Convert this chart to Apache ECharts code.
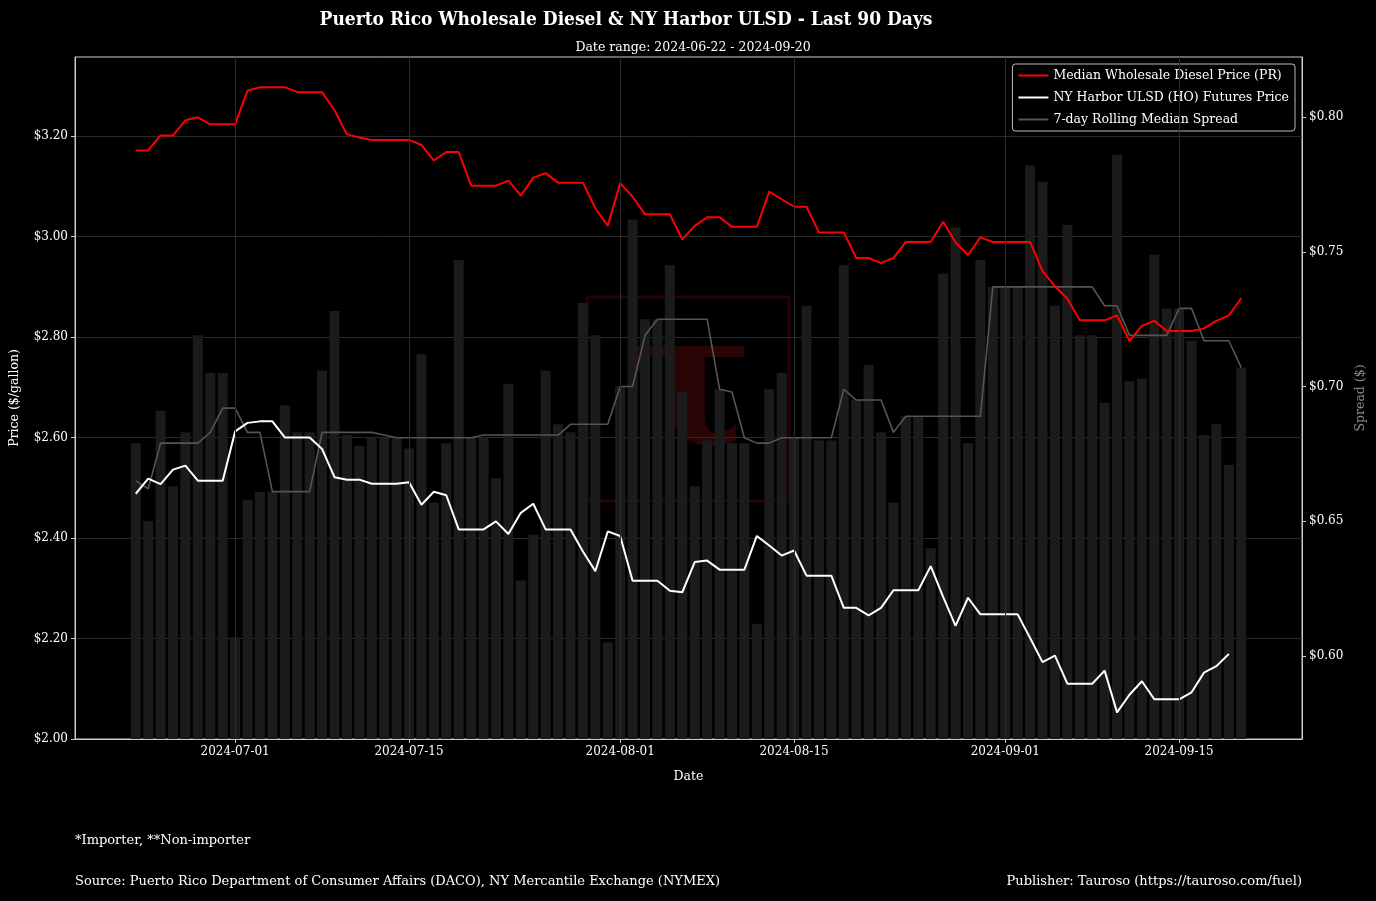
<html>
<head>
    <meta charset="UTF-8">
    <title>Puerto Rico Wholesale Diesel & NY Harbor ULSD</title>
    <style>
        html, body { margin: 0; padding: 0; background: #000; }
    </style>
    <script src="https://cdn.jsdelivr.net/npm/echarts@6/dist/echarts.min.js"></script>
</head>
<body>
<div id="main" style="width: 1376px;height:901px;"></div>
<script>
    // daily series, 2024-06-23 .. 2024-09-20
    var startDate = '2024-06-23';
    var dayCount = 90;
    var tickLabels = ['2024-07-01', '2024-07-15', '2024-08-01', '2024-08-15', '2024-09-01', '2024-09-15'];
    var priceTicks = [2.0, 2.2, 2.4, 2.6, 2.8, 3.0, 3.2];
    var spreadTicks = [0.60, 0.65, 0.70, 0.75, 0.80];

    // Median Wholesale Diesel Price (PR)
    var prPrice = [
        3.171, 3.171, 3.201, 3.201, 3.231, 3.237, 3.223, 3.223, 3.223, 3.290, 3.297, 3.297, 3.297, 3.287, 3.287,
        3.287, 3.251, 3.203, 3.197, 3.192, 3.192, 3.192, 3.192, 3.182, 3.151, 3.168, 3.168, 3.101, 3.101, 3.101, 3.111,
        3.081, 3.117, 3.126, 3.107, 3.107, 3.107, 3.056, 3.021, 3.106, 3.079, 3.044, 3.044, 3.044, 2.994, 3.021,
        3.038, 3.038, 3.019, 3.019, 3.019, 3.089, 3.074, 3.059, 3.059, 3.008, 3.008, 3.008, 2.957, 2.957, 2.947,
        2.957, 2.989, 2.989, 2.989, 3.029, 2.988, 2.963, 2.998, 2.989, 2.989, 2.989, 2.989, 2.931, 2.901, 2.876,
        2.833, 2.833, 2.833, 2.843, 2.792, 2.822, 2.832, 2.812, 2.812, 2.812, 2.817, 2.832, 2.843, 2.877
    ];
    // NY Harbor ULSD (HO) Futures Price
    var hoPrice = [
        2.488, 2.518, 2.507, 2.536, 2.544, 2.514, 2.514, 2.514, 2.612, 2.629, 2.632, 2.632, 2.600, 2.600, 2.600,
        2.577, 2.521, 2.516, 2.516, 2.508, 2.508, 2.508, 2.511, 2.466, 2.492, 2.485, 2.417, 2.417, 2.417, 2.433, 2.408,
        2.450, 2.468, 2.417, 2.417, 2.417, 2.373, 2.334, 2.413, 2.404, 2.315, 2.315, 2.315, 2.295, 2.292, 2.352,
        2.355, 2.337, 2.337, 2.337, 2.404, 2.385, 2.365, 2.375, 2.325, 2.325, 2.325, 2.261, 2.261, 2.246, 2.261,
        2.296, 2.296, 2.296, 2.344, 2.283, 2.225, 2.281, 2.248, 2.248, 2.248, 2.248, 2.201, 2.153, 2.166, 2.110,
        2.110, 2.110, 2.136, 2.053, 2.088, 2.115, 2.079, 2.079, 2.079, 2.093, 2.132, 2.145, 2.169, null
    ];
    // daily spread (bars)
    var spread = [
        0.679, 0.650, 0.691, 0.663, 0.683, 0.719, 0.705, 0.705, 0.607, 0.658, 0.661, 0.661, 0.693, 0.683, 0.683,
        0.706, 0.728, 0.682, 0.678, 0.681, 0.681, 0.681, 0.677, 0.712, 0.657, 0.679, 0.747, 0.681, 0.681, 0.666, 0.701,
        0.628, 0.645, 0.706, 0.686, 0.683, 0.731, 0.719, 0.605, 0.700, 0.762, 0.725, 0.725, 0.745, 0.698, 0.663,
        0.680, 0.699, 0.679, 0.679, 0.612, 0.699, 0.705, 0.681, 0.730, 0.680, 0.680, 0.745, 0.695, 0.708, 0.683,
        0.657, 0.689, 0.689, 0.640, 0.742, 0.759, 0.679, 0.747, 0.737, 0.737, 0.737, 0.782, 0.776, 0.730, 0.760, 0.719,
        0.719, 0.694, 0.786, 0.702, 0.703, 0.749, 0.729, 0.729, 0.717, 0.682, 0.686, 0.671, 0.707
    ];
    // 7-day rolling median spread
    var rollingSpread = [
        0.665, 0.662, 0.679, 0.679, 0.679, 0.679, 0.683, 0.692, 0.692, 0.683, 0.683, 0.661, 0.661, 0.661, 0.661,
        0.683, 0.683, 0.683, 0.683, 0.683, 0.682, 0.681, 0.681, 0.681, 0.681, 0.681, 0.681, 0.681, 0.682, 0.682, 0.682,
        0.682, 0.682, 0.682, 0.682, 0.686, 0.686, 0.686, 0.686, 0.700, 0.700, 0.719, 0.725, 0.725, 0.725, 0.725,
        0.725, 0.699, 0.698, 0.681, 0.679, 0.679, 0.681, 0.681, 0.681, 0.681, 0.681, 0.699, 0.695, 0.695, 0.695,
        0.683, 0.689, 0.689, 0.689, 0.689, 0.689, 0.689, 0.689, 0.737, 0.737, 0.737, 0.737, 0.737, 0.737, 0.737,
        0.737, 0.737, 0.730, 0.730, 0.719, 0.719, 0.719, 0.719, 0.729, 0.729, 0.717, 0.717, 0.717, 0.707
    ];

    var dates = [];
    var d0 = new Date(startDate + 'T00:00:00Z');
    for (var i = 0; i < dayCount; i++) {
        dates.push(new Date(d0.getTime() + i * 86400000).toISOString().slice(0, 10));
    }
    var tickIdx = tickLabels.map(function (d) { return dates.indexOf(d); });

    function pairs(arr) {
        return arr.map(function (v, i) { return [i, v]; });
    }

    var font = 'DejaVu Serif';
    var myChart = echarts.init(document.getElementById('main'));

    var option = {
        backgroundColor: '#000',
        animation: false,
        textStyle: { fontFamily: font },
        title: [
            {
                text: 'Puerto Rico Wholesale Diesel & NY Harbor ULSD - Last 90 Days',
                left: 621, top: 6, textAlign: 'center',
                textStyle: { color: '#fff', fontSize: 19, fontWeight: 'bold', fontFamily: 'DejaVu Serif Condensed' }
            },
            {
                text: 'Date range: 2024-06-22 - 2024-09-20',
                left: 688, top: 36, textAlign: 'center',
                textStyle: { color: '#fff', fontSize: 12.5, fontWeight: 'normal', fontFamily: font }
            }
        ],
        legend: {
            right: 81, top: 64,
            orient: 'vertical',
            icon: 'rect',
            itemWidth: 30, itemHeight: 2, itemGap: 9,
            padding: [5, 6, 5, 6],
            backgroundColor: '#000',
            borderColor: '#bbb', borderWidth: 1, borderRadius: 3,
            textStyle: { color: '#fff', fontSize: 12.5, fontFamily: font },
            data: ['Median Wholesale Diesel Price (PR)', 'NY Harbor ULSD (HO) Futures Price', '7-day Rolling Median Spread']
        },
        grid: {
            left: 75, right: 74, top: 57, bottom: 162,
            show: true, borderColor: '#cccccc', borderWidth: 1
        },
        xAxis: {
            type: 'value',
            min: -4.89, max: 93.89,
            name: 'Date', nameLocation: 'middle', nameGap: 31,
            nameTextStyle: { color: '#fff', fontSize: 12.5, fontFamily: font },
            axisLine: { show: true, onZero: false, lineStyle: { color: '#ccc' } },
            axisTick: { show: true, customValues: tickIdx, length: 4, lineStyle: { color: '#ccc' } },
            axisLabel: {
                customValues: tickIdx, color: '#fff', fontSize: 12, fontFamily: font, margin: 7,
                formatter: function (v) { return dates[Math.round(v)]; }
            },
            splitLine: { show: false }
        },
        yAxis: [
            {
                type: 'value',
                min: 2.0, max: 3.357, interval: 0.2,
                name: 'Price ($/gallon)', nameLocation: 'middle', nameGap: 54,
                nameTextStyle: { color: '#fff', fontSize: 12.5, fontFamily: font },
                axisLine: { show: true, onZero: false, lineStyle: { color: '#ccc' } },
                axisTick: { show: true, customValues: priceTicks, length: 4, lineStyle: { color: '#ccc' } },
                axisLabel: {
                    customValues: priceTicks, color: '#fff', fontSize: 12, fontFamily: font, margin: 7,
                    formatter: function (v) { return '$' + v.toFixed(2); }
                },
                splitLine: { show: true, lineStyle: { color: '#2b2b2b', width: 1 } }
            },
            {
                type: 'value',
                min: 0.5692, max: 0.8223,
                position: 'right',
                name: 'Spread ($)', nameLocation: 'middle', nameGap: 50, nameRotate: 90,
                nameTextStyle: { color: '#8a8a8a', fontSize: 12.5, fontFamily: font },
                axisLine: { show: true, onZero: false, lineStyle: { color: '#ccc' } },
                axisTick: { show: true, customValues: spreadTicks, length: 4, lineStyle: { color: '#ccc' } },
                axisLabel: {
                    customValues: spreadTicks, color: '#fff', fontSize: 12, fontFamily: font, margin: 7,
                    formatter: function (v) { return '$' + v.toFixed(2); }
                },
                splitLine: { show: false }
            }
        ],
        graphic: [
            {
                type: 'rect', z: 0, silent: true,
                shape: { x: 587, y: 297, width: 202, height: 204 },
                style: { fill: 'none', stroke: '#260404', lineWidth: 3 }
            },
            {
                type: 'text', z: 0, silent: true,
                x: 690, y: 395,
                style: {
                    text: 'τ', fill: '#2a0505',
                    font: 'bold 190px "DejaVu Serif"',
                    align: 'center', verticalAlign: 'middle'
                }
            },
            {
                type: 'text', x: 75, y: 834,
                style: { text: '*Importer, **Non-importer', fill: '#fff', font: '13px "DejaVu Serif"' }
            },
            {
                type: 'text', x: 75, y: 875,
                style: { text: 'Source: Puerto Rico Department of Consumer Affairs (DACO), NY Mercantile Exchange (NYMEX)', fill: '#fff', font: '13px "DejaVu Serif"' }
            },
            {
                type: 'text', x: 1302, y: 875,
                style: { text: 'Publisher: Tauroso (https://tauroso.com/fuel)', fill: '#fff', font: '13px "DejaVu Serif"', align: 'right' }
            }
        ],
        series: [
            {
                type: 'bar',
                name: 'Spread',
                yAxisIndex: 1,
                barWidth: 10,
                itemStyle: { color: '#1b1b1b' },
                data: pairs(spread),
                z: 2,
                markLine: {
                    silent: true, symbol: 'none',
                    label: { show: false },
                    lineStyle: { color: '#2b2b2b', type: 'solid', width: 1 },
                    data: tickIdx.map(function (v) { return { xAxis: v }; })
                }
            },
            {
                type: 'line',
                name: '7-day Rolling Median Spread',
                yAxisIndex: 1,
                symbol: 'none',
                lineStyle: { color: '#555', width: 1.6 },
                itemStyle: { color: '#555' },
                data: pairs(rollingSpread),
                z: 3
            },
            {
                type: 'line',
                name: 'Median Wholesale Diesel Price (PR)',
                symbol: 'none',
                lineStyle: { color: '#ff0000', width: 2 },
                itemStyle: { color: '#ff0000' },
                data: pairs(prPrice),
                z: 4
            },
            {
                type: 'line',
                name: 'NY Harbor ULSD (HO) Futures Price',
                symbol: 'none',
                connectNulls: false,
                lineStyle: { color: '#ffffff', width: 2 },
                itemStyle: { color: '#ffffff' },
                data: pairs(hoPrice),
                z: 4
            }
        ]
    };
    myChart.setOption(option);
</script>
</body>
</html>
